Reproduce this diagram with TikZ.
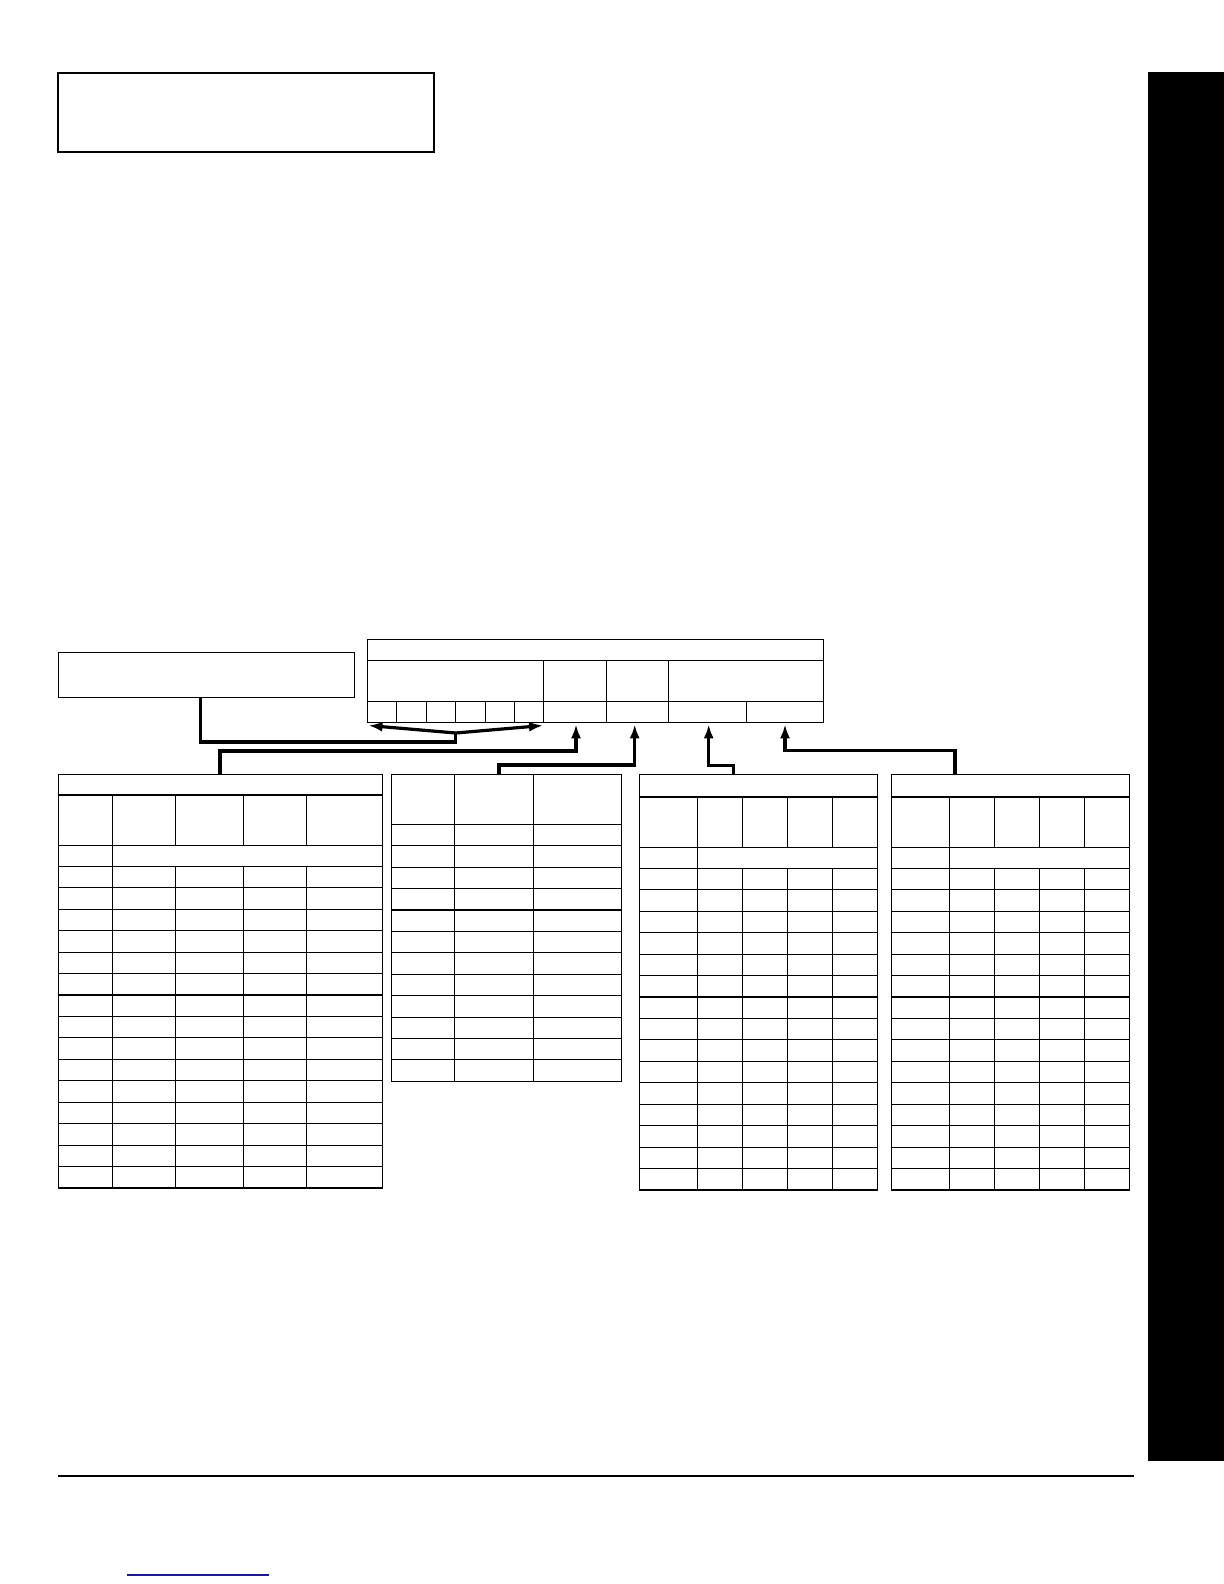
\documentclass[tikz,border=0pt]{standalone}
\usepackage{tkz-euclide}
\usetikzlibrary{calc}
\usetikzlibrary{positioning}
\usetikzlibrary{arrows.meta}
\definecolor{linkblue}{rgb}{0.1,0.1,0.55}

\begin{document}
\begin{tikzpicture}[%
  >={Latex[length=7pt,width=5pt]},
  x=0.5pt, y=-0.5pt,
  cell/.style={line width=0.55pt},
  wire/.style={line width=1.6pt},
]

  \path[use as bounding box, fill=white] (0,0) rectangle (1224,1584);

  % corners of the plain boxes
  \tkzDefPoint(58.3,72.7){t1}
  \tkzDefPoint(434.3,151.7){t2}
  \tkzDefPoint(58.3,652.3){s1}
  \tkzDefPoint(354.7,697.3){s2}
  \tkzDefPoint(367.3,639.3){h1}
  \tkzDefPoint(823.3,722.3){h2}
  \tkzDefPoint(1148,72){k1}
  \tkzDefPoint(1224,1461){k2}
  \tkzDefPoint(58,1475.7){f1}
  \tkzDefPoint(1134,1475.7){f2}
  \tkzDefPoint(127,1575){u1}
  \tkzDefPoint(268.7,1575){u2}

  % connector bends
  \tkzDefPoint(200.7,697.3){a0}
  \tkzDefPoint(200.7,742){a1}
  \tkzDefPoint(455.7,742){a2}
  \tkzDefPoint(455.7,733){a3}
  \tkzDefPoint(368.5,725.5){al}
  \tkzDefPoint(543,725.5){ar}

  \tkzDefPoint(220,774.3){b0}
  \tkzDefPoint(220,751){b1}
  \tkzDefPoint(576,751){b2}
  \tkzDefPoint(576,724.3){b3}

  \tkzDefPoint(499,774.3){c0}
  \tkzDefPoint(499,765){c1}
  \tkzDefPoint(634.7,765){c2}
  \tkzDefPoint(634.7,724.3){c3}

  \tkzDefPoint(733.3,774.3){d0}
  \tkzDefPoint(733.3,765.7){d1}
  \tkzDefPoint(708.7,765.7){d2}
  \tkzDefPoint(708.7,724.3){d3}

  \tkzDefPoint(955,774.3){e0}
  \tkzDefPoint(955,750.7){e1}
  \tkzDefPoint(785,750.7){e2}
  \tkzDefPoint(785,724.3){e3}

  \fill (k1) rectangle (k2);
  \draw[line width=1pt] (t1) rectangle (t2);
  \draw[cell] (s1) rectangle (s2);
  \draw[line width=1.1pt] (f1) -- (f2);
  \draw[linkblue,line width=0.6pt] (u1) -- (u2);

  % header strip
  \draw[cell] (h1) rectangle (h2);
  \draw[cell] (367.3,660.3) -- (823.3,660.3);
  \draw[cell] (367.3,701.3) -- (823.3,701.3);
  \foreach \x in {543.7,606.3,668.3}
    \draw[cell] (\x,660.3) -- (\x,722.3);
  \foreach \x in {396.7,426.7,455.7,485.3,514.7,746.3}
    \draw[cell] (\x,701.3) -- (\x,722.3);

  % first table
  \draw[cell] (58.3,774.3) rectangle (382.3,1188);
  \foreach \y in {795,845.3,866.3}
    \draw[cell] (58.3,\y) -- (382.3,\y);
  \foreach \i in {1,...,14}
    \draw[cell] (58.3,{866.3+\i*21.447}) -- (382.3,{866.3+\i*21.447});
  \draw[cell] (112.3,795) -- (112.3,1188);
  \foreach \x in {175.3,243.3,306.3} {
    \draw[cell] (\x,795) -- (\x,845.3);
    \draw[cell] (\x,866.3) -- (\x,1188);
  }

  % second table
  \draw[cell] (391.5,774.3) rectangle (621.3,1081.3);
  \foreach \i in {0,...,11}
    \draw[cell] (391.5,{824.3+\i*21.417}) -- (621.3,{824.3+\i*21.417});
  \foreach \x in {454.3,533.7}
    \draw[cell] (\x,774.3) -- (\x,1081.3);

  % third and fourth table
  \foreach \o in {639.5,891.5} {
    \draw[cell] (\o,774.3) rectangle ({\o+237.8},1190);
    \foreach \y in {797,847.3,868.3}
      \draw[cell] (\o,\y) -- ({\o+237.8},\y);
    \foreach \i in {1,...,14}
      \draw[cell] (\o,{868.3+\i*21.447}) -- ({\o+237.8},{868.3+\i*21.447});
    \draw[cell] ({\o+57.8},797) -- ({\o+57.8},1190);
    \foreach \d in {102.8,147.8,192.8} {
      \draw[cell] ({\o+\d},797) -- ({\o+\d},847.3);
      \draw[cell] ({\o+\d},868.3) -- ({\o+\d},1190);
    }
  }

  % connectors
  \draw[wire] (a0) -- (a1) -- (a2) -- (a3);
  \draw[wire,->] (a3) -- (al);
  \draw[wire,->] (a3) -- (ar);
  \draw[wire,->] (b0) -- (b1) -- (b2) -- (b3);
  \draw[wire,->] (c0) -- (c1) -- (c2) -- (c3);
  \draw[wire,->] (d0) -- (d1) -- (d2) -- (d3);
  \draw[wire,->] (e0) -- (e1) -- (e2) -- (e3);

\end{tikzpicture}
\end{document}
